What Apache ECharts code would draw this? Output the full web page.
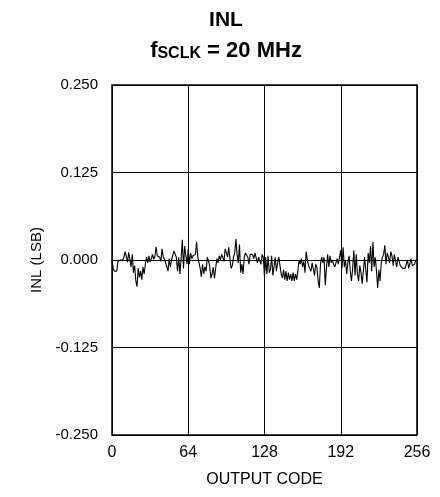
<!DOCTYPE html>
<html><head><meta charset="utf-8">
<script src="https://cdn.jsdelivr.net/npm/echarts@6/dist/echarts.min.js"></script>
<style>html,body{margin:0;padding:0;background:#fff}#c{width:440px;height:497px}</style>
</head><body><div id="c"></div>
<script>
const xTicks = [0, 64, 128, 192, 256];
const yTicks = [-0.250, -0.125, 0.000, 0.125, 0.250];
const inlValues = [
 0.000,-0.012,-0.016,-0.017,-0.016,-0.002,0.000,0.000,
 0.001,0.000,0.004,0.012,0.005,-0.003,0.011,0.010,
 -0.010,0.008,-0.018,-0.008,-0.030,-0.038,-0.012,-0.025,
 -0.016,-0.028,-0.010,-0.020,-0.006,0.004,-0.004,0.006,
 -0.003,0.002,0.008,0.001,0.005,0.019,0.006,0.004,
 0.004,-0.002,0.016,0.004,0.001,-0.004,-0.002,-0.016,
 0.002,-0.010,0.000,0.002,0.013,0.015,0.004,-0.016,
 0.004,-0.020,0.002,0.029,-0.012,0.020,0.006,-0.006,
 0.016,-0.006,0.010,0.002,0.006,0.004,0.008,0.026,
 0.004,0.002,-0.012,-0.024,-0.006,-0.020,-0.010,-0.016,
 0.004,0.002,-0.008,-0.026,-0.020,-0.010,-0.026,-0.012,
 0.002,-0.004,0.006,0.000,0.008,0.004,-0.002,0.016,
 0.014,0.004,0.018,0.002,-0.012,-0.008,0.004,0.010,
 0.030,0.008,-0.004,0.022,-0.018,-0.006,-0.020,0.004,
 0.010,0.008,0.004,-0.006,0.008,0.010,0.008,0.002,
 0.010,0.008,-0.004,0.004,0.002,-0.006,0.008,0.004,
 -0.024,0.004,-0.020,0.006,-0.018,-0.014,0.006,-0.022,
 -0.010,0.004,-0.016,-0.004,0.004,0.002,-0.020,-0.026,
 -0.014,-0.028,-0.016,-0.030,-0.018,-0.028,-0.020,-0.030,
 -0.018,-0.030,-0.020,-0.028,-0.016,0.000,-0.006,0.002,
 -0.010,-0.002,-0.018,0.012,0.000,-0.008,-0.006,-0.016,
 -0.004,-0.006,-0.022,-0.006,-0.010,-0.030,-0.040,-0.006,
 0.004,-0.004,0.004,-0.036,-0.012,0.008,-0.010,0.006,
 -0.004,0.000,-0.006,-0.010,-0.008,0.002,-0.006,-0.008,
 0.014,-0.012,0.018,-0.010,0.000,-0.020,-0.004,0.006,
 -0.016,-0.030,-0.012,0.014,-0.022,0.008,-0.020,-0.030,
 -0.008,-0.018,-0.034,-0.036,0.004,-0.014,-0.032,0.010,
 -0.004,0.020,-0.016,0.026,-0.010,0.004,-0.016,-0.040,
 -0.014,-0.030,-0.004,0.004,0.008,0.021,-0.006,0.010,
 0.004,-0.004,0.012,0.006,-0.008,0.008,-0.002,-0.010,
 0.004,0.006,-0.008,-0.010,-0.012,-0.012,-0.012,-0.012,
 0.000,-0.012,-0.010,0.002,-0.008,-0.010,-0.006,0.000,
 0.000
];
const data = inlValues.map((v, i) => [i, v]);
const chart = echarts.init(document.getElementById('c'), null, {renderer: 'canvas'});
const font = 'Liberation Sans, Arial, sans-serif';
chart.setOption({
  animation: false,
  backgroundColor: '#fff',
  title: [{
    text: 'INL',
    left: 221, top: 5, textAlign: 'center',
    textStyle: {fontFamily: font, fontSize: 21, fontWeight: 'bold', color: '#000'}
  }, {
    text: '{f|f}{s|SCLK}{f| = 20 MHz}',
    left: 221, top: 30, textAlign: 'center',
    textStyle: {
      rich: {
        f: {fontFamily: font, fontSize: 22, fontWeight: 'bold', color: '#000', verticalAlign: 'bottom'},
        s: {fontFamily: font, fontSize: 16, fontWeight: 'bold', color: '#000', padding: [11, 0, 0, 0], verticalAlign: 'bottom'}
      }
    }
  }],
  grid: {left: 112, right: 23, top: 85, bottom: 62, show: true, borderColor: '#000', borderWidth: 1.5},
  xAxis: {
    type: 'value', min: 0, max: 256, interval: 64,
    name: 'OUTPUT CODE', nameLocation: 'middle', nameGap: 37,
    nameTextStyle: {fontFamily: font, fontSize: 16, color: '#000'},
    axisLine: {show: false}, axisTick: {show: false},
    axisLabel: {fontFamily: font, fontSize: 16, color: '#000', margin: 10,
      formatter: v => xTicks.includes(v) ? String(v) : ''},
    splitLine: {show: true, lineStyle: {color: '#000', width: 1}}
  },
  yAxis: {
    type: 'value', min: -0.25, max: 0.25, interval: 0.125,
    name: 'INL (LSB)', nameLocation: 'middle', nameGap: 66, nameRotate: 90,
    nameTextStyle: {fontFamily: font, fontSize: 15, color: '#000'},
    axisLine: {show: false}, axisTick: {show: false},
    axisLabel: {fontFamily: font, fontSize: 15, color: '#000', margin: 14,
      formatter: v => yTicks.some(t => Math.abs(t - v) < 1e-9) ? v.toFixed(3) : ''},
    splitLine: {show: true, lineStyle: {color: '#000', width: 1}}
  },
  series: [{
    type: 'line', data: data, showSymbol: false, symbol: 'none',
    lineStyle: {color: '#000', width: 1.1}
  }]
});
</script></body></html>
